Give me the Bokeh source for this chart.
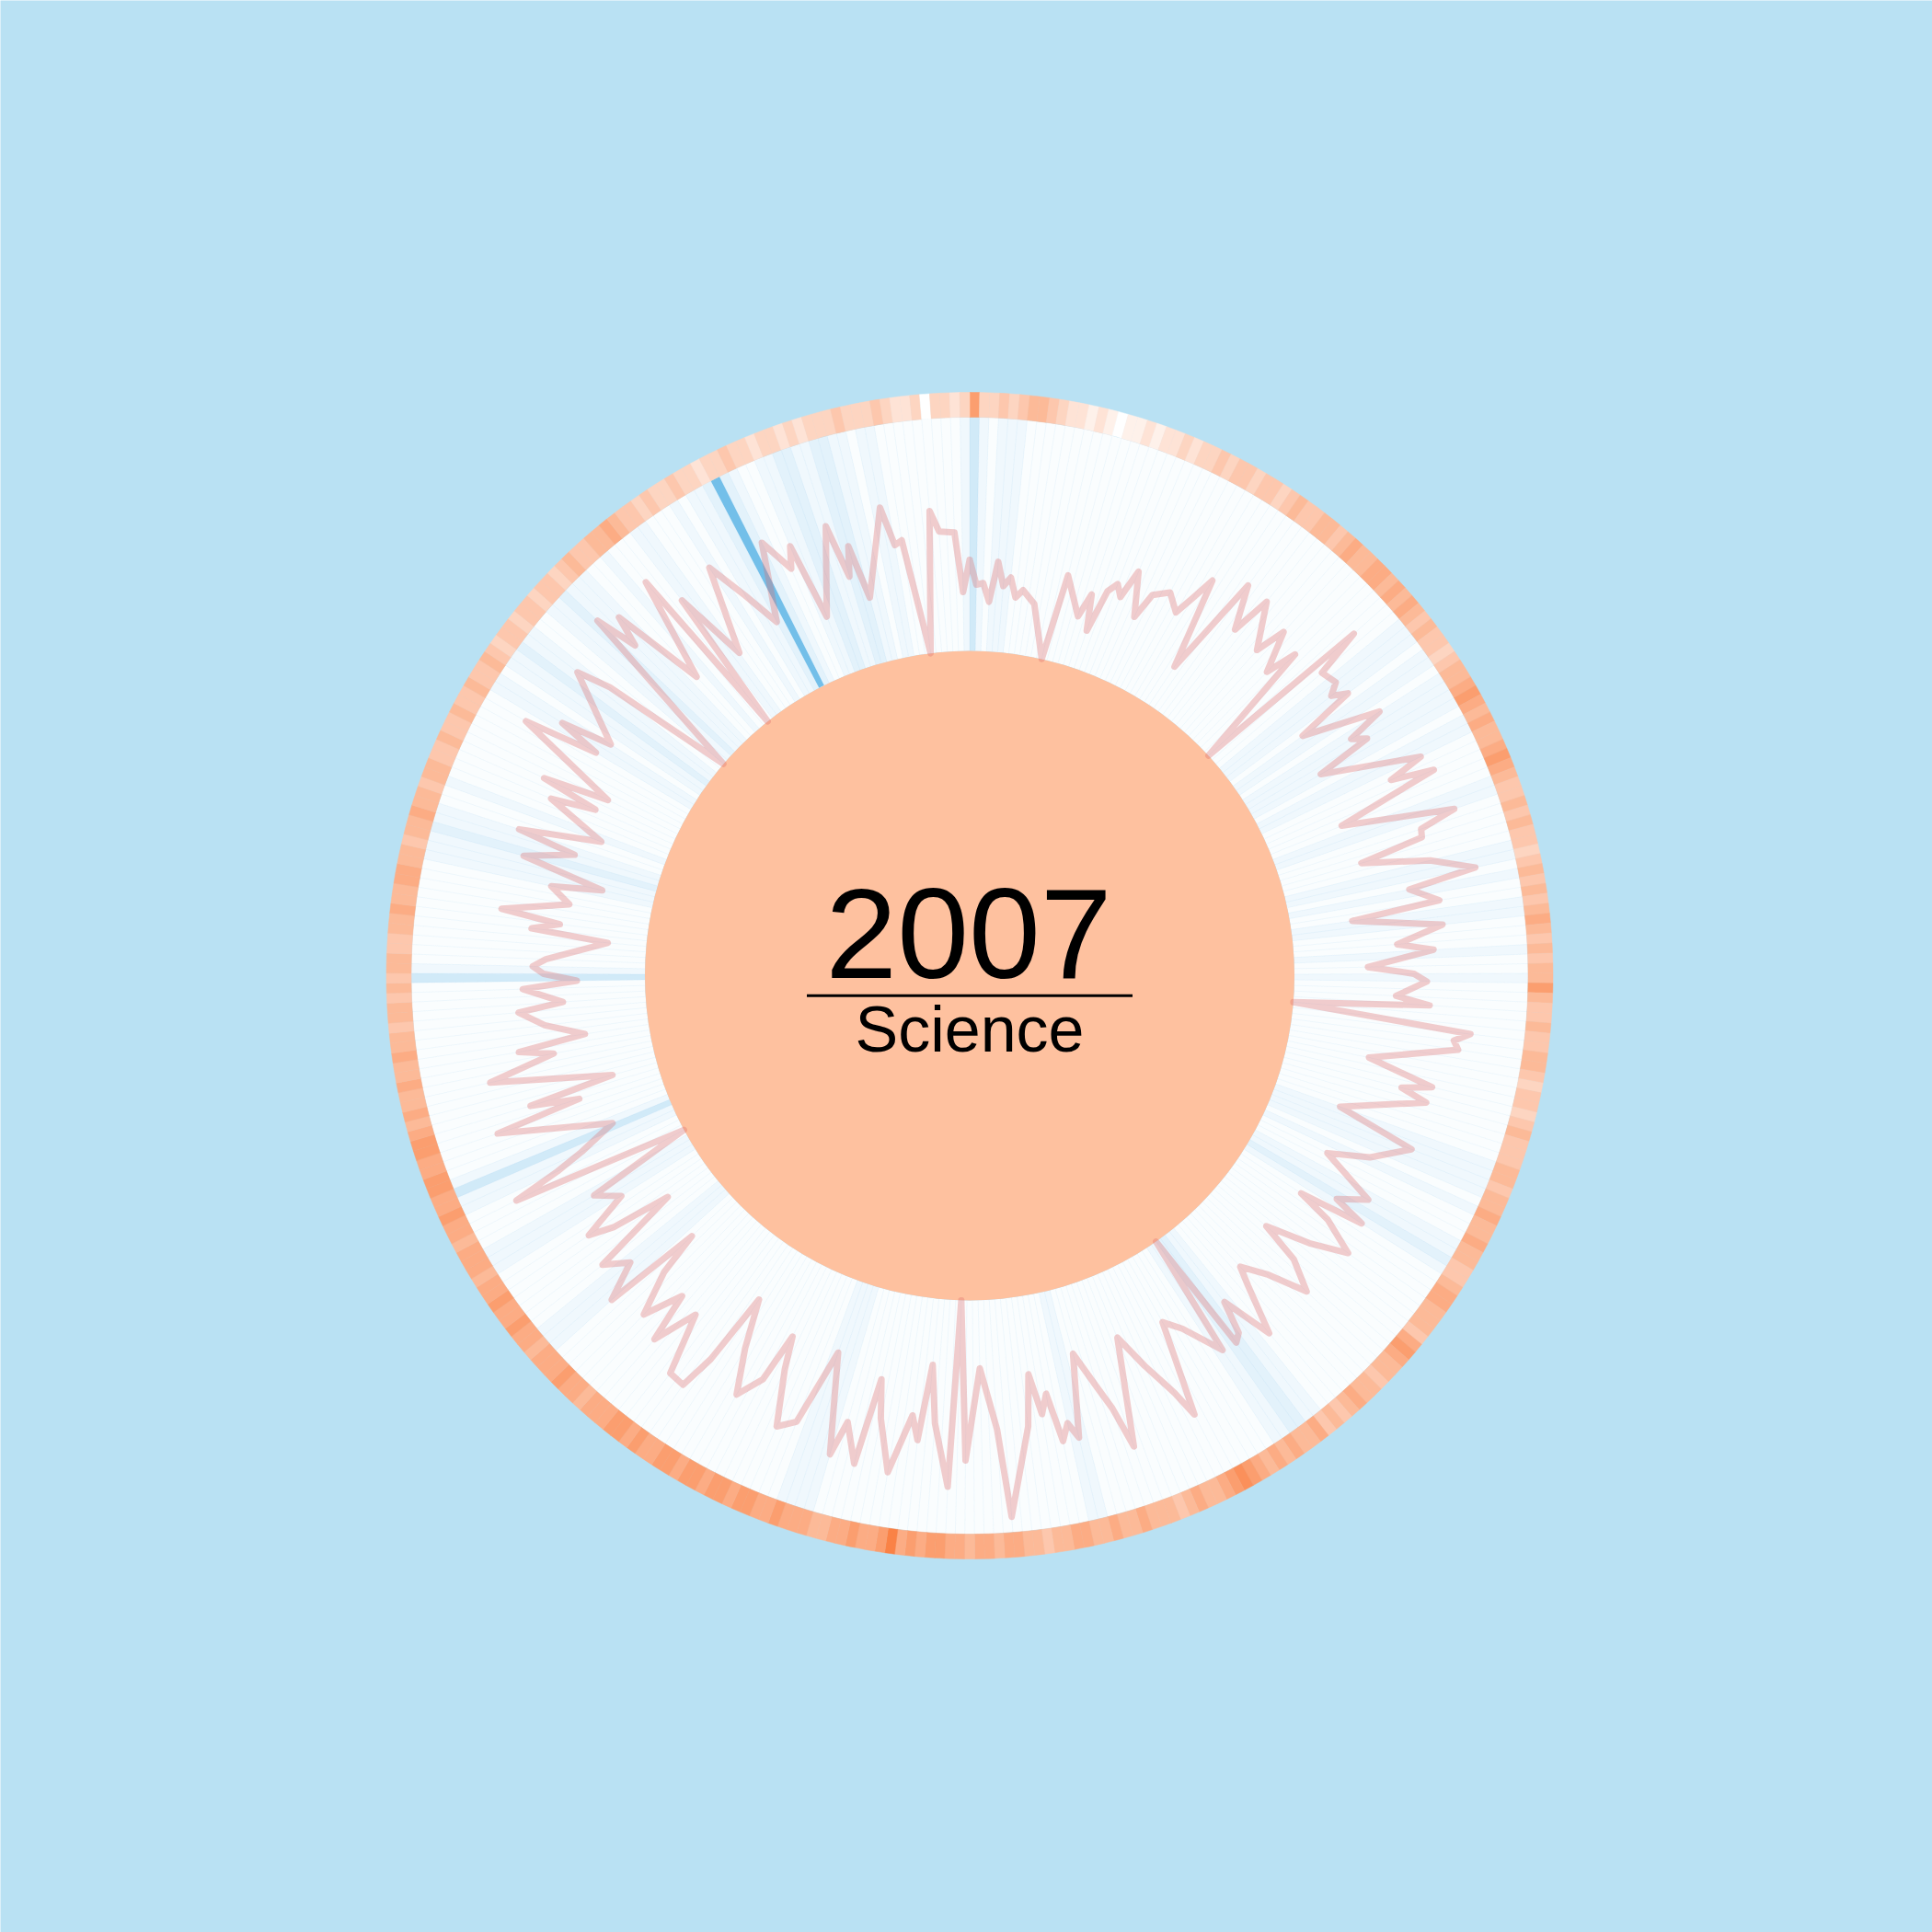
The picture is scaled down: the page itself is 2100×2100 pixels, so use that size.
import math
from bokeh.plotting import figure
from bokeh.models import Range1d
from bokeh.core.properties import value
from bokeh.embed import file_html
from bokeh.resources import INLINE

year_label = "2007"
category_label = "Science"
n_days = 365

# pink line: (day of year, value) in drawing order
line_days = [0, 1, 2, 3, 4, 5, 6, 7, 8, 10, 13, 14, 17, 18, 19, 20, 21, 22, 23, 25, 26, 28, 30, 31, 32, 34, 36, 38, 39, 42, 43, 45, 46, 48, 49, 50, 52, 53, 54, 55, 58, 59, 60, 61,
             65, 66, 67, 69, 72, 73, 74, 75, 77, 79, 80, 82, 83, 85, 87, 88, 90, 91, 92, 94, 95, 96, 98, 99, 100, 103, 105, 106, 107, 111, 113, 116, 118, 121, 123, 124, 125, 126, 128, 130, 132,
             133, 135, 137, 139, 140, 142, 144, 145, 146, 147, 148, 151, 153, 155, 156, 158, 160, 163, 164, 165, 167, 169, 170, 171, 172, 173, 174, 175, 178, 179, 181, 183, 184, 185,
             187, 188, 189, 190, 192, 194, 195, 196, 198, 199, 202, 204, 206, 208, 209, 210, 212, 214, 216, 217, 218, 220, 222, 224, 225, 227, 229, 230, 231, 233, 235, 237, 238, 239, 241, 243, 245, 247,
             248, 249, 251, 255, 256, 257, 258, 261, 263, 264, 265, 267, 269, 270, 272, 273, 274, 275, 276, 279, 280, 281, 282, 284, 286, 287, 289, 291, 292, 294, 297, 298, 299, 300,
             304, 305, 306, 307, 312, 313, 315, 318, 319, 320, 322, 325, 326, 327, 329, 332, 334, 336, 339, 341, 342, 343, 347, 348, 349, 350, 354, 355, 356, 358, 360, 361, 363, 364]
line_values = [99, 72, 74, 54, 98, 72, 82, 61, 70, 57, 0, 95, 55, 82, 43, 91, 102, 90, 123, 76, 106, 117, 101, 124, 151, 50, 168, 121, 166, 119, 153, 109, 144, 0, 206, 152, 157, 144, 160, 93, 177, 135, 150, 87,
               192, 152, 199, 83, 204, 163, 161, 90, 163, 209, 134, 164, 67, 164, 113, 152, 80, 130, 144, 111, 148, 0, 195, 178, 184, 90, 164, 132, 162, 74, 163, 125, 81, 144, 114, 151, 78, 118, 157, 117, 69,
               115, 149, 105, 79, 100, 154, 97, 133, 140, 0, 138, 95, 78, 183, 152, 112, 72, 189, 142, 117, 73, 163, 145, 163, 109, 130, 85, 141, 237, 141, 74, 174, 0, 203,
               135, 72, 155, 129, 194, 138, 96, 192, 150, 189, 81, 167, 180, 120, 84, 140, 168, 120, 67, 150, 190, 188, 121, 170, 115, 158, 110, 61, 172, 130, 155, 54, 120, 148, 95, 120, 0, 197,
               143, 110, 67, 188, 92, 145, 50, 181, 107, 144, 70, 112, 139, 90, 133, 74, 110, 122, 108, 42, 126, 96, 161, 89, 112, 57, 149, 96, 162, 73, 141, 92, 157, 84,
               203, 120, 168, 111, 186, 148, 0, 206, 158, 192, 87, 201, 0, 161, 78, 173, 127, 85, 169, 130, 153, 67, 160, 100, 132, 72, 165, 122, 126, 0, 154, 131, 129, 64]

# outer ring intensity per day (0 = white, 9 = deepest orange)
ring_jan = [7, 3, 3, 4, 3, 4, 5, 5, 4, 3, 2, 2, 1, 2, 1, 0, 1, 1, 2, 1, 2, 2, 3, 2, 3, 3, 4, 3, 4, 4, 3]
ring_feb = [4, 4, 3, 4, 5, 4, 4, 5, 5, 4, 5, 6, 5, 5, 6, 6, 5, 6, 5, 6, 5, 4, 5, 4, 4, 3, 4, 5]
ring_mar = [5, 6, 7, 6, 5, 6, 5, 5, 6, 7, 6, 5, 4, 4, 5, 4, 5, 4, 4, 3, 4, 5, 4, 5, 4, 5, 6, 5, 4, 5, 4]
ring_apr = [5, 5, 7, 5, 4, 4, 5, 4, 4, 5, 5, 4, 3, 4, 4, 3, 4, 5, 4, 4, 4, 5, 5, 4, 5, 5, 6, 5, 5, 6]
ring_may = [5, 5, 4, 4, 5, 6, 6, 5, 5, 5, 4, 6, 7, 6, 5, 5, 4, 5, 5, 6, 5, 4, 5, 4, 6, 5, 5, 6, 5, 6, 5]
ring_jun = [6, 7, 8, 7, 6, 5, 5, 6, 5, 4, 5, 5, 5, 6, 5, 5, 6, 5, 5, 6, 6, 5, 5, 4, 5, 5, 6, 6, 5, 6]
ring_jul = [6, 5, 6, 6, 7, 7, 6, 7, 6, 9, 7, 6, 6, 7, 6, 6, 5, 5, 6, 6, 6, 7, 6, 6, 7, 7, 6, 7, 7, 6, 7]
ring_aug = [7, 6, 7, 7, 6, 6, 7, 6, 7, 7, 6, 6, 6, 5, 6, 6, 7, 6, 6, 6, 5, 6, 6, 7, 6, 6, 7, 6, 6, 5, 6]
ring_sep = [6, 6, 5, 6, 6, 7, 6, 6, 7, 7, 6, 6, 7, 7, 6, 5, 6, 5, 5, 6, 5, 5, 6, 5, 5, 4, 5, 5, 4, 5]
ring_oct = [4, 5, 5, 4, 4, 5, 5, 6, 5, 5, 6, 6, 5, 5, 4, 5, 5, 6, 5, 5, 4, 5, 5, 4, 4, 5, 4, 4, 5, 4, 4]
ring_nov = [5, 4, 4, 5, 4, 3, 4, 4, 3, 4, 4, 3, 4, 4, 3, 4, 5, 4, 4, 5, 5, 6, 5, 4, 4, 3, 4, 3, 3, 4]
ring_dec = [3, 3, 2, 3, 3, 4, 3, 3, 2, 3, 3, 2, 3, 2, 3, 3, 3, 4, 3, 3, 3, 4, 3, 2, 2, 3, 0, 3, 3, 2, 3]

# inner blue spokes intensity per day (0 = none, 9 = strongest)
blue_jan = [4, 2, 1, 2, 2, 2, 1, 1, 1, 1, 1, 1, 1, 1, 1, 1, 1, 1, 1, 1, 1, 1, 1, 1, 1, 1, 1, 1, 1, 1, 1]
blue_feb = [1, 1, 1, 1, 1, 1, 1, 1, 1, 1, 1, 1, 1, 1, 1, 1, 1, 1, 1, 1, 2, 2, 2, 1, 2, 2, 1, 2]
blue_mar = [2, 2, 2, 1, 2, 2, 1, 1, 1, 1, 1, 2, 2, 1, 1, 1, 1, 1, 2, 2, 1, 2, 1, 1, 2, 2, 1, 1, 1, 2, 1]
blue_apr = [1, 2, 1, 1, 1, 1, 1, 1, 1, 1, 1, 1, 1, 1, 1, 1, 1, 1, 1, 1, 1, 2, 2, 2, 2, 1, 2, 1, 1, 1]
blue_may = [2, 2, 3, 2, 1, 1, 1, 1, 1, 1, 1, 1, 1, 1, 1, 1, 1, 1, 1, 1, 1, 1, 1, 2, 2, 3, 3, 2, 2, 1, 1]
blue_jun = [1, 1, 1, 1, 1, 1, 1, 1, 1, 1, 1, 1, 1, 1, 1, 1, 1, 2, 2, 1, 1, 1, 1, 1, 1, 1, 1, 1, 1, 1]
blue_jul = [1, 1, 1, 1, 1, 1, 1, 1, 1, 1, 1, 1, 1, 1, 1, 1, 1, 1, 2, 2, 2, 2, 1, 1, 1, 1, 1, 1, 1, 1, 1]
blue_aug = [1, 1, 1, 1, 1, 1, 1, 1, 1, 1, 1, 1, 1, 1, 1, 1, 1, 1, 1, 2, 2, 2, 1, 1, 1, 1, 1, 1, 1, 2, 2]
blue_sep = [2, 1, 1, 1, 1, 2, 2, 4, 2, 1, 1, 1, 1, 1, 1, 1, 1, 1, 1, 1, 1, 1, 1, 1, 1, 1, 1, 1, 1, 1]
blue_oct = [4, 2, 1, 1, 1, 1, 1, 1, 1, 1, 1, 1, 1, 2, 2, 2, 3, 2, 2, 1, 1, 2, 1, 1, 1, 1, 1, 1, 1, 1, 1]
blue_nov = [1, 2, 2, 1, 2, 2, 3, 2, 2, 1, 1, 2, 2, 3, 2, 2, 2, 1, 1, 2, 1, 1, 1, 2, 2, 1, 1, 1, 2, 1]
blue_dec = [2, 2, 3, 9, 3, 2, 1, 1, 2, 2, 3, 3, 2, 2, 3, 3, 2, 2, 1, 2, 2, 1, 1, 1, 1, 1, 1, 1, 1, 1, 2]


def fit(lst):
    lst = list(lst)[:n_days]
    while len(lst) < n_days:
        lst.append(lst[-1])
    return lst


ring_levels = fit(ring_jan + ring_feb + ring_mar + ring_apr + ring_may + ring_jun +
                  ring_jul + ring_aug + ring_sep + ring_oct + ring_nov + ring_dec)
blue_levels = fit(blue_jan + blue_feb + blue_mar + blue_apr + blue_may + blue_jun +
                  blue_jul + blue_aug + blue_sep + blue_oct + blue_nov + blue_dec)

# geometry (pixel-like data units)
R_CENTER = 353
R_RING_IN = 607
R_RING_OUT = 634
BG = "#b9e1f3"
ORANGE_DEEP = (250, 130, 70)
BLUE = "#5ab4e5"
blue_alpha = [0.0, 0.03, 0.09, 0.17, 0.28, 0.4, 0.5, 0.6, 0.7, 0.85]

step = 2 * math.pi / n_days


def ang(day):
    # clockwise from top -> bokeh's counter-clockwise from +x
    return math.pi / 2 - day * step


starts = [ang(d + 1) for d in range(n_days)]
ends = [ang(d) for d in range(n_days)]


def mix(level):
    t = level / 9.0
    r = round(255 + (ORANGE_DEEP[0] - 255) * t)
    g = round(255 + (ORANGE_DEEP[1] - 255) * t)
    b = round(255 + (ORANGE_DEEP[2] - 255) * t)
    return "#%02x%02x%02x" % (r, g, b)


ring_colors = [mix(l) for l in ring_levels]
spoke_alphas = [blue_alpha[l] for l in blue_levels]

p = figure(width=2100, height=2100, x_range=Range1d(-1053.5, 1046.5), y_range=Range1d(-1040, 1060),
           output_backend="svg", toolbar_location=None, min_border=0)
p.axis.visible = False
p.grid.visible = False
p.outline_line_color = None
p.background_fill_color = BG
p.border_fill_color = BG

zeros = [0] * n_days
# white base of the spoke band
p.annulus(x=0, y=0, inner_radius=R_CENTER, outer_radius=R_RING_IN, fill_color="white", line_color=None)
# daily blue spokes
p.annular_wedge(x=zeros, y=zeros, inner_radius=R_CENTER, outer_radius=R_RING_IN,
                start_angle=starts, end_angle=ends, fill_color=BLUE, fill_alpha=spoke_alphas,
                line_color=BLUE, line_alpha=0.07, line_width=0.6)
# daily outer ring
p.annular_wedge(x=zeros, y=zeros, inner_radius=R_RING_IN, outer_radius=R_RING_OUT,
                start_angle=starts, end_angle=ends, fill_color=ring_colors, line_color=ring_colors,
                line_width=0.5)
# center disc
p.circle(x=[0], y=[0], radius=R_CENTER, fill_color="#fec19f", line_color=None)

# radial line
xs, ys = [], []
for d, v in zip(line_days, line_values):
    th = d * step
    r = R_CENTER + v
    xs.append(r * math.sin(th))
    ys.append(r * math.cos(th))
xs.append(xs[0])
ys.append(ys[0])
p.line(xs, ys, line_color="#de6a6a", line_alpha=0.33, line_width=7, line_join="round", line_cap="round")

# labels
p.text(x=[-1], y=[46], text=[year_label], text_font=value("Liberation Sans"), text_font_size="140px",
       text_align="center", text_baseline="alphabetic", text_color="black")
p.line([-177, 177], [-21.7, -21.7], line_color="black", line_width=3)
p.text(x=[0], y=[-58], text=[category_label], text_font=value("Liberation Sans"), text_font_size="70px",
       text_align="center", text_baseline="alphabetic", text_color="black")

open("out.html", "w").write(file_html(p, INLINE))
